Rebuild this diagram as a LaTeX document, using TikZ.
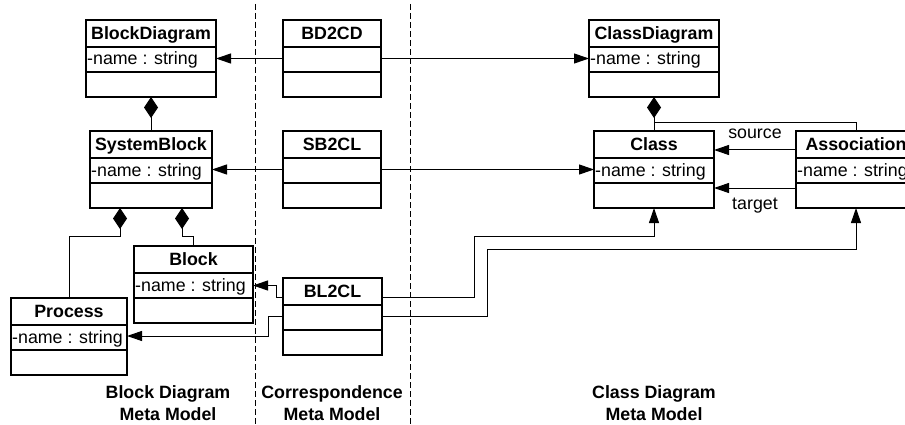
\documentclass[tikz,border=0pt]{standalone}
\usepackage{fontspec}
\setmainfont{Liberation Sans}
\usetikzlibrary{arrows.meta}

\tikzset{
  umlbox/.style={draw, line width=1.2pt, rectangle, minimum height=77pt,
    inner sep=0pt, outer sep=0pt, fill=white},
  umltitle/.style={font=\fontsize{17.8}{20}\selectfont\bfseries, inner sep=0pt},
  umlattr/.style={font=\fontsize{17.8}{20}\selectfont, inner sep=0pt, anchor=base west},
  divider/.style={line width=1.2pt},
  conn/.style={line width=1pt},
  refarrow/.style={conn, -{Triangle[length=15pt,width=10pt]}},
  compos/.style={conn, -{Diamond[length=21pt,width=14pt]}},
  lane/.style={line width=0.9pt, dash pattern=on 6pt off 3pt},
  rolelabel/.style={font=\fontsize{17.8}{20}\selectfont, inner sep=0pt, anchor=base},
  caption/.style={font=\fontsize{17.8}{21.5}\selectfont\bfseries, align=center, inner sep=0pt}
}

% name, centre x, top y, width, title, attribute
\newcommand\umlclass[6]{%
  \node[umlbox, minimum width=#4pt, anchor=north] (#1) at (#2,#3) {};
  \draw[divider] ([yshift=-27pt]#1.north west) -- ([yshift=-27pt]#1.north east);
  \draw[divider] ([yshift=-52pt]#1.north west) -- ([yshift=-52pt]#1.north east);
  \node[umltitle, anchor=base] (#1-title) at ([yshift=-19.5pt]#1.north) {#5};
  \node[umlattr] (#1-attr) at ([xshift=1pt,yshift=-45pt]#1.north west) {#6};
}

\begin{document}
\begin{tikzpicture}[x=1pt,y=-1pt]
\useasboundingbox (0,0) rectangle (905,425);
\clip (0,0) rectangle (905,425);

% lane separators
\draw[lane] (255,4) -- (255,425);
\draw[lane] (410,4) -- (410,425);

% block diagram meta model
\umlclass{bd}{151}{20}{130}{BlockDiagram}{-name : string}
\umlclass{sb}{151}{131}{122}{SystemBlock}{-name : string}
\umlclass{block}{193.5}{246}{119}{Block}{-name : string}
\umlclass{proc}{69}{298}{116}{Process}{-name : string}

% correspondence meta model
\umlclass{bd2cd}{332}{20}{98}{BD2CD}{}
\umlclass{sb2cl}{332}{131}{98}{SB2CL}{}
\umlclass{bl2cl}{332.5}{278}{99}{BL2CL}{}

% class diagram meta model
\umlclass{cd}{654}{20}{130}{ClassDiagram}{-name : string}
\umlclass{cls}{654}{131}{120}{Class}{-name : string}
\umlclass{asc}{856}{131}{120}{Association}{-name : string}

% compositions
\draw[compos] (sb.north) -- (bd.south);
\coordinate (sbL) at ([xshift=-31pt]sb.south);
\coordinate (sbR) at ([xshift=31pt]sb.south);
\draw[compos] (proc.north) |- ([yshift=-28pt]sbL) -- (sbL);
\draw[compos] (block.north) |- ([yshift=-28pt]sbR) -- (sbR);
\draw[compos] (cls.north) -- (cd.south);
\draw[conn] (asc.north) |- ([yshift=-26pt]cd.south);

% correspondence links
\draw[refarrow] (bd2cd.west) -- (bd.east);
\draw[refarrow] (bd2cd.east) -- (cd.west);
\draw[refarrow] (sb2cl.west) -- (sb.east);
\draw[refarrow] (sb2cl.east) -- (cls.west);
\draw[refarrow] ([yshift=-19pt]bl2cl.north west) -- ++(-7,0) |- ([yshift=-39.5pt]block.north east);
\draw[refarrow] ([yshift=-38pt]bl2cl.north west) -- ++(-15,0) |- ([yshift=-38pt]proc.north east);
\draw[refarrow] ([yshift=-19pt]bl2cl.north east) -- ++(92,0) |- ([yshift=-28pt]cls.south) -- (cls.south);
\draw[refarrow] ([yshift=-38pt]bl2cl.north east) -- ++(105,0) |- ([yshift=-41pt]asc.south) -- (asc.south);

% association ends
\draw[refarrow] ([yshift=-19pt]asc.north west) -- ([yshift=-19pt]cls.north east)
  node[rolelabel, midway, yshift=11pt] (src) {source};
\draw[refarrow] ([yshift=-57pt]asc.north west) -- ([yshift=-57pt]cls.north east)
  node[rolelabel, midway, yshift=-21pt] (tgt) {target};

% lane captions
\node[caption] (capbd) at (168,403) {Block Diagram\\Meta Model};
\node[caption] (capcm) at (332,403) {Correspondence\\Meta Model};
\node[caption] (capcd) at (654,403) {Class Diagram\\Meta Model};
\end{tikzpicture}
\end{document}
